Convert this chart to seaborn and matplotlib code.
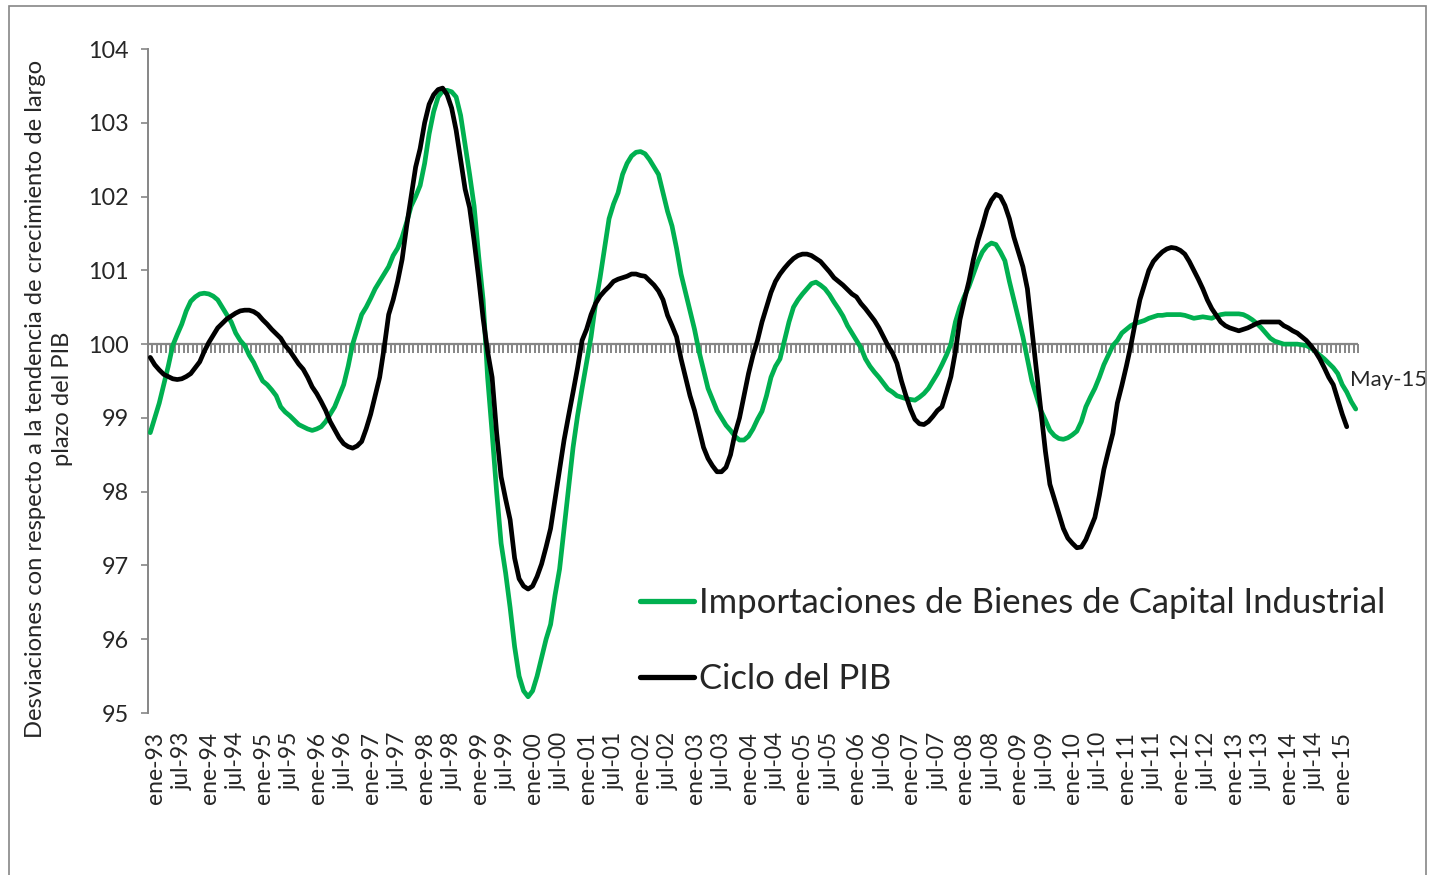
import matplotlib
matplotlib.use("Agg")
import matplotlib.pyplot as plt
import matplotlib.transforms as mtransforms
from matplotlib.patches import Rectangle
import pandas as pd
import seaborn as sns

# monthly series, ene-93 .. may-15
importaciones = [
    98.8, 99.0, 99.2, 99.45, 99.7, 99.98, 100.13, 100.27, 100.45, 100.58, 100.64, 100.68,      # 1993
    100.69, 100.68, 100.65, 100.6, 100.5, 100.4, 100.3, 100.15, 100.05, 99.98, 99.85, 99.75,   # 1994
    99.62, 99.5, 99.45, 99.38, 99.3, 99.15, 99.08, 99.03, 98.97, 98.91, 98.88, 98.85,          # 1995
    98.83, 98.85, 98.88, 98.95, 99.05, 99.15, 99.3, 99.45, 99.7, 100.0, 100.2, 100.4,          # 1996
    100.5, 100.62, 100.75, 100.85, 100.95, 101.05, 101.2, 101.3, 101.45, 101.65, 101.87, 102.0,  # 1997
    102.15, 102.45, 102.85, 103.15, 103.35, 103.43, 103.44, 103.42, 103.35, 103.1, 102.7, 102.3,  # 1998
    101.87, 101.2, 100.6, 99.55, 98.8, 98.0, 97.3, 96.9, 96.43, 95.9, 95.5, 95.3,              # 1999
    95.22, 95.3, 95.5, 95.75, 96.0, 96.2, 96.6, 96.95, 97.5, 98.05, 98.6, 99.03,               # 2000
    99.4, 99.75, 100.1, 100.55, 100.9, 101.3, 101.7, 101.9, 102.05, 102.3, 102.45, 102.55,     # 2001
    102.6, 102.61, 102.58, 102.5, 102.4, 102.3, 102.05, 101.8, 101.6, 101.3, 100.95, 100.7,    # 2002
    100.45, 100.2, 99.9, 99.65, 99.4, 99.25, 99.1, 99.0, 98.9, 98.83, 98.75, 98.7,             # 2003
    98.7, 98.75, 98.85, 98.98, 99.09, 99.3, 99.55, 99.7, 99.8, 100.05, 100.3, 100.5,           # 2004
    100.6, 100.68, 100.75, 100.82, 100.84, 100.8, 100.75, 100.67, 100.57, 100.48, 100.38, 100.25,  # 2005
    100.15, 100.05, 99.95, 99.8, 99.7, 99.62, 99.55, 99.47, 99.39, 99.35, 99.3, 99.28,         # 2006
    99.26, 99.25, 99.24, 99.28, 99.33, 99.4, 99.5, 99.6, 99.72, 99.85, 100.0, 100.3,           # 2007
    100.5, 100.65, 100.78, 100.95, 101.12, 101.25, 101.33, 101.37, 101.35, 101.25, 101.13, 100.85,  # 2008
    100.6, 100.35, 100.1, 99.8, 99.5, 99.3, 99.1, 98.97, 98.83, 98.76, 98.72, 98.71,           # 2009
    98.73, 98.77, 98.82, 98.95, 99.15, 99.28, 99.4, 99.55, 99.72, 99.85, 99.98, 100.05,        # 2010
    100.15, 100.2, 100.25, 100.28, 100.3, 100.32, 100.35, 100.37, 100.39, 100.39, 100.4, 100.4,  # 2011
    100.4, 100.4, 100.39, 100.37, 100.35, 100.36, 100.37, 100.36, 100.35, 100.38, 100.4, 100.41,  # 2012
    100.41, 100.41, 100.41, 100.4, 100.37, 100.33, 100.28, 100.22, 100.15, 100.08, 100.04, 100.02,  # 2013
    100.0, 100.0, 100.0, 100.0, 99.99, 99.98, 99.95, 99.9, 99.85, 99.8, 99.74, 99.68,          # 2014
    99.6, 99.45, 99.35, 99.22, 99.12,                                                         # 2015
]

ciclo_pib = [
    99.82, 99.72, 99.65, 99.59, 99.56, 99.53, 99.52, 99.53, 99.56, 99.6, 99.68, 99.76,        # 1993
    99.9, 100.02, 100.12, 100.22, 100.28, 100.34, 100.38, 100.42, 100.45, 100.46, 100.46, 100.44,  # 1994
    100.4, 100.33, 100.27, 100.2, 100.14, 100.08, 99.98, 99.91, 99.82, 99.73, 99.66, 99.55,   # 1995
    99.42, 99.33, 99.22, 99.1, 98.95, 98.84, 98.73, 98.65, 98.61, 98.59, 98.62, 98.68,        # 1996
    98.85, 99.05, 99.3, 99.55, 99.95, 100.4, 100.6, 100.85, 101.15, 101.6, 102.0, 102.4,      # 1997
    102.65, 103.0, 103.25, 103.38, 103.45, 103.47, 103.38, 103.2, 102.9, 102.5, 102.1, 101.85,  # 1998
    101.4, 100.9, 100.35, 99.9, 99.55, 98.8, 98.2, 97.9, 97.62, 97.1, 96.82, 96.72,           # 1999
    96.68, 96.72, 96.85, 97.02, 97.25, 97.5, 97.9, 98.3, 98.7, 99.03, 99.35, 99.68,           # 2000
    100.05, 100.2, 100.4, 100.55, 100.65, 100.72, 100.78, 100.85, 100.88, 100.9, 100.92, 100.95,  # 2001
    100.95, 100.93, 100.92, 100.86, 100.8, 100.72, 100.6, 100.39, 100.25, 100.1, 99.8, 99.55,  # 2002
    99.3, 99.1, 98.85, 98.6, 98.45, 98.35, 98.27, 98.27, 98.33, 98.5, 98.79, 99.0,            # 2003
    99.3, 99.6, 99.85, 100.05, 100.3, 100.5, 100.7, 100.85, 100.95, 101.03, 101.1, 101.16,    # 2004
    101.2, 101.22, 101.22, 101.2, 101.16, 101.12, 101.05, 100.98, 100.9, 100.85, 100.8, 100.74,  # 2005
    100.68, 100.64, 100.55, 100.48, 100.4, 100.32, 100.22, 100.1, 99.98, 99.88, 99.74, 99.5,  # 2006
    99.3, 99.12, 98.98, 98.92, 98.91, 98.95, 99.02, 99.1, 99.15, 99.35, 99.56, 99.9,          # 2007
    100.33, 100.6, 100.85, 101.15, 101.4, 101.6, 101.82, 101.95, 102.03, 102.0, 101.88, 101.7,  # 2008
    101.45, 101.25, 101.05, 100.75, 100.2, 99.65, 99.1, 98.55, 98.1, 97.9, 97.7, 97.5,        # 2009
    97.37, 97.3, 97.24, 97.25, 97.35, 97.5, 97.65, 97.95, 98.3, 98.55, 98.79, 99.2,           # 2010
    99.44, 99.7, 99.98, 100.3, 100.6, 100.8, 101.0, 101.12, 101.19, 101.25, 101.29, 101.31,   # 2011
    101.3, 101.27, 101.22, 101.12, 101.0, 100.88, 100.75, 100.6, 100.48, 100.39, 100.3, 100.25,  # 2012
    100.22, 100.2, 100.18, 100.2, 100.22, 100.25, 100.28, 100.3, 100.3, 100.3, 100.3, 100.3,  # 2013
    100.25, 100.22, 100.18, 100.15, 100.1, 100.05, 99.98, 99.9, 99.8, 99.68, 99.55, 99.45,    # 2014
    99.25, 99.05, 98.88,                                                                      # 2015
]

tick_labels = [
    "ene-93", "jul-93", "ene-94", "jul-94", "ene-95", "jul-95", "ene-96", "jul-96",
    "ene-97", "jul-97", "ene-98", "jul-98", "ene-99", "jul-99", "ene-00", "jul-00",
    "ene-01", "jul-01", "ene-02", "jul-02", "ene-03", "jul-03", "ene-04", "jul-04",
    "ene-05", "jul-05", "ene-06", "jul-06", "ene-07", "jul-07", "ene-08", "jul-08",
    "ene-09", "jul-09", "ene-10", "jul-10", "ene-11", "jul-11", "ene-12", "jul-12",
    "ene-13", "jul-13", "ene-14", "jul-14", "ene-15",
]

n_months = len(importaciones)
GREEN = "#00B050"
GRAY = "#868686"

sns.set_style("white")
plt.rcParams["font.family"] = ["Lato", "DejaVu Sans"]

fig = plt.figure(figsize=(14.29, 8.75), dpi=100)
ax = fig.add_axes([148 / 1429, 1 - 713 / 875, 1210 / 1429, 664 / 875])

# chart area border
fig.patches.append(Rectangle((9 / 1429, -0.02), 1417 / 1429, 1.02 - 6 / 875,
                             transform=fig.transFigure, fill=False,
                             edgecolor=GRAY, lw=1.2))

# horizontal axis at 100 with monthly tick marks
ax.axhline(100, color=GRAY, lw=1.6, zorder=1)
bounds = [i - 0.5 for i in range(n_months + 1)]
ax.plot(bounds, [100] * len(bounds), ls="none", marker=3, ms=6.5, mew=1.4,
        color=GRAY, zorder=1, clip_on=False)

df_g = pd.DataFrame({"mes": range(len(importaciones)), "valor": importaciones})
df_b = pd.DataFrame({"mes": range(len(ciclo_pib)), "valor": ciclo_pib})

sns.lineplot(data=df_g, x="mes", y="valor", color=GREEN, lw=3.4, ax=ax,
             label="Importaciones de Bienes de Capital Industrial",
             solid_capstyle="round", solid_joinstyle="round", zorder=3)
sns.lineplot(data=df_b, x="mes", y="valor", color="black", lw=3.4, ax=ax,
             label="Ciclo del PIB", solid_capstyle="round",
             solid_joinstyle="round", zorder=4)

ax.set_xlim(-0.5, n_months - 0.5)
ax.set_ylim(95, 104)
ax.set_yticks(range(95, 105))
ax.set_xticks(range(0, n_months, 6))
ax.set_xticklabels(tick_labels, rotation=90, va="top", ha="center")
ax.set_xlabel("")
ax.set_ylabel("")

ax.tick_params(axis="x", length=0, pad=13.5, labelsize=16.5)
ax.tick_params(axis="y", length=5, width=1.2, color=GRAY, pad=9, labelsize=16.8, left=True)
off = mtransforms.ScaledTranslation(5 / 100, 0, fig.dpi_scale_trans)
for lab in ax.get_xticklabels():
    lab.set_transform(lab.get_transform() + off)

for s in ["top", "right", "bottom"]:
    ax.spines[s].set_visible(False)
ax.spines["left"].set_color(GRAY)
ax.spines["left"].set_linewidth(1.4)

ax.annotate("May-15", xy=(len(importaciones) - 1, importaciones[-1]),
            xytext=(-4, 21), textcoords="offset points", fontsize=16,
            ha="left", va="center", annotation_clip=False)

fig.text(49 / 1429, 1 - 399 / 875,
         "Desviaciones con respecto a la tendencia de crecimiento de largo\nplazo del PIB",
         rotation=90, ha="center", va="center", fontsize=17.1, multialignment="center",
         linespacing=1.34)

leg = ax.legend(loc="upper left", bbox_to_anchor=((640 - 148) / 1210, (713 - 587) / 664),
                frameon=False, fontsize=24.9, handlelength=1.55, handletextpad=0.15,
                labelspacing=1.27, borderpad=0, borderaxespad=0)
for line in leg.get_lines():
    line.set_linewidth(3.8)

fig.savefig("out.png", dpi=100)
